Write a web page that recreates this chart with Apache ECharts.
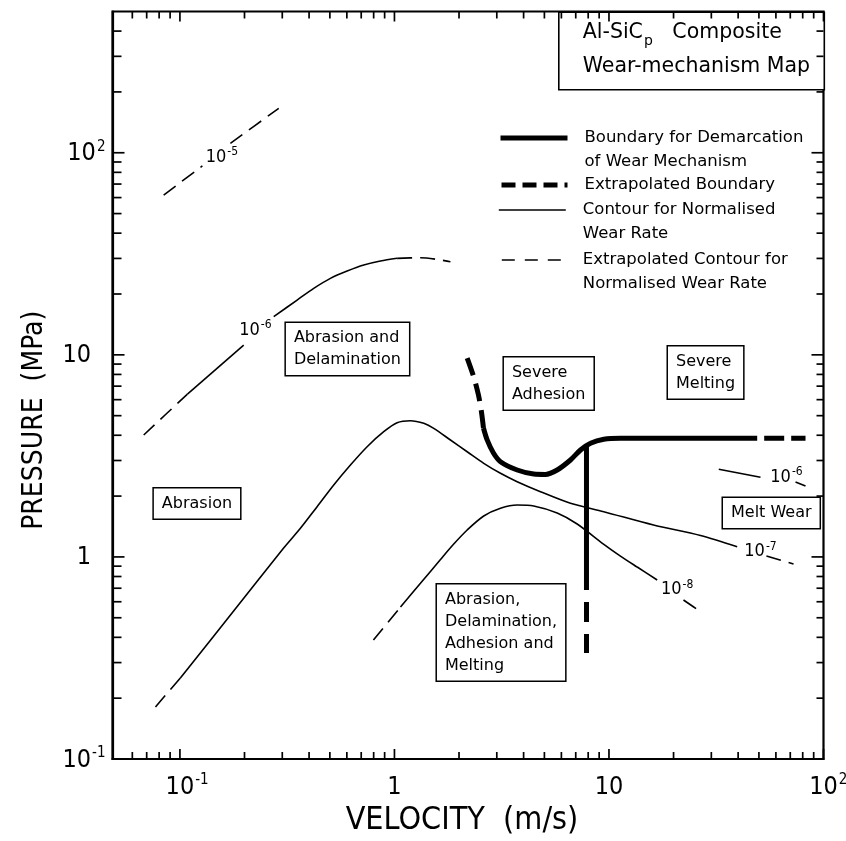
<!DOCTYPE html>
<html><head><meta charset="utf-8">
<script src="https://cdn.jsdelivr.net/npm/echarts@6/dist/echarts.min.js"></script>
<style>html,body{margin:0;padding:0;background:#fff}#c{width:846px;height:841px}</style>
</head><body><div id="c"></div>
<script>
// ---------- axis ranges & ticks ----------
const X_MIN = 0.0485, X_MAX = 100, Y_MIN = 0.1, Y_MAX = 500;
const X_MAJOR = [0.1, 1, 10, 100];
const X_MINOR = [0.06,0.07,0.08,0.09,0.2,0.3,0.4,0.5,0.6,0.7,0.8,0.9,2,3,4,5,6,7,8,9,20,30,40,50,60,70,80,90];
const Y_MAJOR = [0.1, 1, 10, 100];
const Y_MINOR = [0.2,0.3,0.4,0.5,0.6,0.7,0.8,0.9,2,3,4,5,6,7,8,9,20,30,40,50,60,70,80,90,200,300,400];

// ---------- wear-rate contours [velocity m/s, pressure MPa] ----------
const C5_DASH_A = [[0.0840,61.76],[0.1273,86.1]];
const C5_DASH_B = [[0.1719,111.3],[0.2888,165.9]];

const C6_DASH_L  = [[0.0678,4.011],[0.1084,6.397]];
const C6_SOLID_A = [[0.1084,6.397],[0.1983,11.18]];
const C6_SOLID_B = [[0.2737,15.44],[0.3519,18.67],[0.4205,21.33],[0.5029,23.9],[0.6018,25.98],[0.7195,27.82],[0.8604,29.12],[1.029,30.03]];
const C6_DASH_R  = [[1.029,30.03],[1.322,30.24],[1.824,28.88]];
const C6R_SOLID  = [[32.5,2.714],[50.85,2.477]];
const C6R_DASH   = [[74.06,2.348],[82.45,2.243]];

const C7_DASH_L = [[0.0769,0.181],[0.1005,0.252]];
const C7_SOLID  = [[0.1005,0.252],[0.1776,0.538],[0.3038,1.103],[0.3645,1.385],[0.4361,1.772],[0.5212,2.269],[0.6235,2.849],[0.7458,3.511],[0.8915,4.164],[1.029,4.613],[1.187,4.72],[1.370,4.583],[1.525,4.328],[1.824,3.788],[2.183,3.315],[2.608,2.905],[3.121,2.593],[3.733,2.356],[4.794,2.102],[6.615,1.842],[9.458,1.674],[16.13,1.438],[26.71,1.276],[39.6,1.123]];
const C7_DASH_R = [[54.2,1.010],[72.5,0.922]];

const C8_DASH_L = [[0.798,0.388],[1.067,0.565]];
const C8_SOLID  = [[1.067,0.565],[1.322,0.740],[1.639,0.971],[1.890,1.158],[2.183,1.359],[2.608,1.594],[3.121,1.740],[3.733,1.806],[4.461,1.786],[5.735,1.649],[7.108,1.455],[9.428,1.158],[11.31,1.010],[13.54,0.891],[16.78,0.769]];
const C8_DASH_R = [[22.25,0.612],[27.29,0.528]];

// ---------- mechanism boundaries ----------
const B_DASH_TOP   = [[2.183,9.643],[2.343,7.767],[2.464,6.325],[2.545,5.212],[2.600,4.344]];
const B_SOLID      = [[2.600,4.344],[2.705,3.793],[2.894,3.267],[3.121,2.959],[3.733,2.692],[4.461,2.572],[5.058,2.56],[5.735,2.692],[6.615,3.017],[7.365,3.381],[8.203,3.649],[9.458,3.818],[11.31,3.862],[49.08,3.862]];
const B_DASH_RIGHT = [[49.08,3.862],[82.45,3.862]];
const B_VERT_SOLID = [[7.855,3.58],[7.855,0.686]];
const B_VERT_DASH  = [[7.855,0.686],[7.855,0.335]];

// ---------- annotations ----------
const CONTOUR_EXP = ['-5','-6','-6','-7','-8'];
const CONTOUR_LABEL_AT = [[0.157,96.3],[0.2249,13.42],[67.2,2.513],[50.85,1.076],[20.8,0.698]];
const REGION_TEXT = ['Abrasion and\nDelamination','Abrasion','Severe\nAdhesion','Severe\nMelting','Melt Wear','Abrasion,\nDelamination,\nAdhesion and\nMelting'];
const REGION_AT = [[0.3103,10.68],[0.0752,1.837],[3.222,7.211],[18.74,8.174],[33.82,1.649],[1.570,0.4225]];
const LEGEND_NAMES = ['Boundary','Extrapolated Boundary','Contour','Extrapolated Contour'];
const LEGEND_TEXT = {
  'Boundary': 'Boundary for Demarcation\nof Wear Mechanism',
  'Extrapolated Boundary': 'Extrapolated Boundary',
  'Contour': 'Contour for Normalised\nWear Rate',
  'Extrapolated Contour': 'Extrapolated Contour for\nNormalised Wear Rate'
};

// ---------- styling ----------
const NARROW = "'Liberation Sans Narrow','DejaVu Sans Condensed','Arial Narrow',sans-serif";
const SANS = "'DejaVu Sans',sans-serif";
const THICK = 5, THIN = 1.6;
const THICK_DASH = [18, 9], THIN_DASH = [15, 8];
const LEGEND_LINE = {
  'Boundary': {width: THICK, type: 'solid'},
  'Extrapolated Boundary': {width: THICK, type: [14, 7]},
  'Contour': {width: THIN, type: 'solid'},
  'Extrapolated Contour': {width: THIN, type: [13, 10]}
};

function lineS(name, data, width, dash, extra) {
  return Object.assign({
    type: 'line', name: name, data: data, symbol: 'none', showSymbol: false,
    smooth: 0.3, silent: true, animation: false,
    itemStyle: {color: '#000'},
    lineStyle: {color: '#000', width: width, type: dash || 'solid', cap: 'butt'},
    z: width > 3 ? 4 : 3
  }, extra || {});
}

function tickSeries(data, side, len) {
  return {
    type: 'custom', silent: true, animation: false, z: 5,
    data: data,
    renderItem: function (params, api) {
      const p = api.coord([api.value(0), api.value(1)]);
      let dx = 0, dy = 0;
      if (side === 'b') dy = -len; else if (side === 't') dy = len;
      else if (side === 'l') dx = len; else dx = -len;
      return {type: 'line', shape: {x1: p[0], y1: p[1], x2: p[0] + dx, y2: p[1] + dy},
              style: {stroke: '#000', lineWidth: 1.7}};
    }
  };
}

const RICH_AX = {
  b: {fontFamily: NARROW, fontSize: 25, lineHeight: 27, verticalAlign: 'bottom', color: '#000'},
  s: {fontFamily: NARROW, fontSize: 15, lineHeight: 15, padding: [0, 0, 12, 1], verticalAlign: 'top', color: '#000'},
  h: {fontFamily: NARROW, fontSize: 15, lineHeight: 15, padding: [0, 1, 12, 0], verticalAlign: 'top', color: 'rgba(0,0,0,0)'}
};
function expOf(v) {
  const l = Math.log10(v), e = Math.round(l);
  return Math.abs(l - e) > 0.01 ? null : e;
}
function fmtX(v) {
  const e = expOf(v);
  if (e === null) return '';
  if (e === 0) return '{b|1}';
  if (e === 1) return '{b|10}';
  return '{h|' + e + '}{b|10}{s|' + e + '}';
}
function fmtY(v) {
  const e = expOf(v);
  if (e === null) return '';
  if (e === 0) return '{b|1}{h|-1}';
  if (e === 1) return '{b|10}{h|-1}';
  return '{b|10}{s|' + e + '}';
}

const series = [];
// boundaries
series.push(lineS('Boundary', B_SOLID, THICK));
series.push(lineS('Boundary', B_VERT_SOLID, THICK, null, {smooth: false}));
series.push(lineS('Extrapolated Boundary', B_DASH_RIGHT, THICK, null, {smooth: false, lineStyle: {color: '#000', width: THICK, type: [20, 7], dashOffset: 20, cap: 'butt'}}));
series.push(lineS('Extrapolated Boundary', B_DASH_TOP, THICK, THICK_DASH));
series.push(lineS('Extrapolated Boundary', B_VERT_DASH, THICK, null, {smooth: false, lineStyle: {color: '#000', width: THICK, type: [20, 12], dashOffset: 20, cap: 'butt'}}));
// contours
[C7_SOLID, C8_SOLID, C6_SOLID_A, C6_SOLID_B, C6R_SOLID].forEach(d => series.push(lineS('Contour', d, THIN)));
[C7_DASH_L, C7_DASH_R, C8_DASH_L, C8_DASH_R, C6_DASH_L, C6_DASH_R, C6R_DASH, C5_DASH_A, C5_DASH_B]
  .forEach(d => series.push(lineS('Extrapolated Contour', d, THIN, THIN_DASH)));

// contour labels
series.push({
  type: 'scatter', silent: true, animation: false, symbolSize: 1, z: 6,
  itemStyle: {color: 'rgba(0,0,0,0)', opacity: 1},
  data: CONTOUR_LABEL_AT.map((p, i) => ({value: p, name: CONTOUR_EXP[i]})),
  label: {
    show: true, position: 'inside', opacity: 1,
    formatter: p => '{b|10}{s|' + p.name + '}',
    rich: {
      b: {fontFamily: NARROW, fontSize: 18, lineHeight: 20, verticalAlign: 'bottom', color: '#000'},
      s: {fontFamily: NARROW, fontSize: 12, lineHeight: 12, padding: [0, 0, 9, 1], verticalAlign: 'top', color: '#000'}
    }
  }
});
// region labels
series.push({
  type: 'scatter', silent: true, animation: false, symbolSize: 1, z: 7,
  itemStyle: {color: 'rgba(0,0,0,0)', opacity: 1},
  data: REGION_AT.map((p, i) => ({value: p, name: REGION_TEXT[i]})),
  label: {
    show: true, position: 'right', distance: 0, formatter: '{b}', opacity: 1,
    align: 'left', verticalAlign: 'middle',
    fontFamily: SANS, fontSize: 16, lineHeight: 22, color: '#000',
    backgroundColor: '#fff', borderColor: '#000', borderWidth: 1.5, padding: [4, 8, 4, 8]
  }
});
// ticks on all four sides
series.push(tickSeries(X_MAJOR.map(v => [v, Y_MIN]), 'b', 10));
series.push(tickSeries(X_MINOR.map(v => [v, Y_MIN]), 'b', 7));
series.push(tickSeries(X_MAJOR.map(v => [v, Y_MAX]), 't', 10));
series.push(tickSeries(X_MINOR.map(v => [v, Y_MAX]), 't', 7));
series.push(tickSeries(Y_MAJOR.map(v => [X_MIN, v]), 'l', 12));
series.push(tickSeries(Y_MINOR.map(v => [X_MIN, v]), 'l', 9));
series.push(tickSeries(Y_MAJOR.map(v => [X_MAX, v]), 'r', 12));
series.push(tickSeries(Y_MINOR.map(v => [X_MAX, v]), 'r', 7));

// legends: one component per entry, icon aligned with first text line
const LEGEND_CENTER = [138, 185, 210, 260];
const legends = LEGEND_NAMES.map((n, i) => {
  const twoLine = LEGEND_TEXT[n].indexOf('\n') >= 0;
  return {
    data: [n], orient: 'vertical', left: 498,
    top: LEGEND_CENTER[i] - (twoLine ? 36 : 12),
    padding: 0, itemWidth: 67, itemHeight: 14, selectedMode: false,
    formatter: name => (twoLine ? '\n' : '') + LEGEND_TEXT[name],
    itemStyle: {color: 'rgba(0,0,0,0)', opacity: 0, borderWidth: 0},
    lineStyle: Object.assign({color: '#000', cap: 'butt', opacity: 1}, LEGEND_LINE[n]),
    textStyle: {fontFamily: SANS, fontSize: 16.5, lineHeight: 24, color: '#000', padding: [0, 0, 0, 12]}
  };
});

const option = {
  animation: false,
  backgroundColor: '#fff',
  grid: {left: 112.5, right: 22.5, top: 11.5, bottom: 82, containLabel: false, outerBoundsMode: 'none',
         show: true, borderColor: '#000', borderWidth: 2.2, backgroundColor: 'transparent'},
  legend: legends,
  xAxis: {
    type: 'log', logBase: 10, min: X_MIN, max: X_MAX,
    axisLine: {show: true, lineStyle: {color: '#000', width: 2.2}},
    axisTick: {show: false}, minorTick: {show: false}, splitLine: {show: false},
    axisLabel: {showMinLabel: false, showMaxLabel: true, formatter: fmtX, rich: RICH_AX, margin: 14, color: '#000'},
    name: 'VELOCITY  (m/s)', nameLocation: 'middle', nameGap: 42,
    nameTextStyle: {fontFamily: NARROW, fontSize: 32, color: '#000', padding: [0, 12, 0, 0]}
  },
  yAxis: {
    type: 'log', logBase: 10, min: Y_MIN, max: Y_MAX,
    axisLine: {show: true, lineStyle: {color: '#000', width: 2.2}},
    axisTick: {show: false}, minorTick: {show: false}, splitLine: {show: false},
    axisLabel: {showMinLabel: true, showMaxLabel: false, formatter: fmtY, rich: RICH_AX, margin: 7, color: '#000'},
    name: 'PRESSURE  (MPa)', nameLocation: 'middle', nameRotate: 90, nameGap: 64,
    nameTextStyle: {fontFamily: NARROW, fontSize: 28, color: '#000', padding: [0, 70, 0, 0]}
  },
  graphic: [{
    type: 'group', left: 558, top: 11.5, z: 100,
    children: [
      {type: 'rect', shape: {x: 0, y: 0, width: 265.5, height: 77.5}, style: {fill: '#fff', stroke: '#000', lineWidth: 1.6}},
      {type: 'text', x: 24, y: 22, style: {
        text: '{a|Al-SiC}{p|p}{a|   Composite}', verticalAlign: 'middle',
        rich: {
          a: {fontFamily: SANS, fontSize: 20.5, lineHeight: 24, verticalAlign: 'top', fill: '#000'},
          p: {fontFamily: SANS, fontSize: 14, lineHeight: 14, padding: [12, 0, 0, 1], verticalAlign: 'top', fill: '#000'}
        }}},
      {type: 'text', x: 24, y: 54, style: {text: 'Wear-mechanism Map', fontFamily: SANS, fontSize: 20.5, verticalAlign: 'middle', fill: '#000'}}
    ]
  }],
  series: series
};

const chart = echarts.init(document.getElementById('c'), null, {renderer: 'canvas'});
chart.setOption(option);
</script>
</body></html>
